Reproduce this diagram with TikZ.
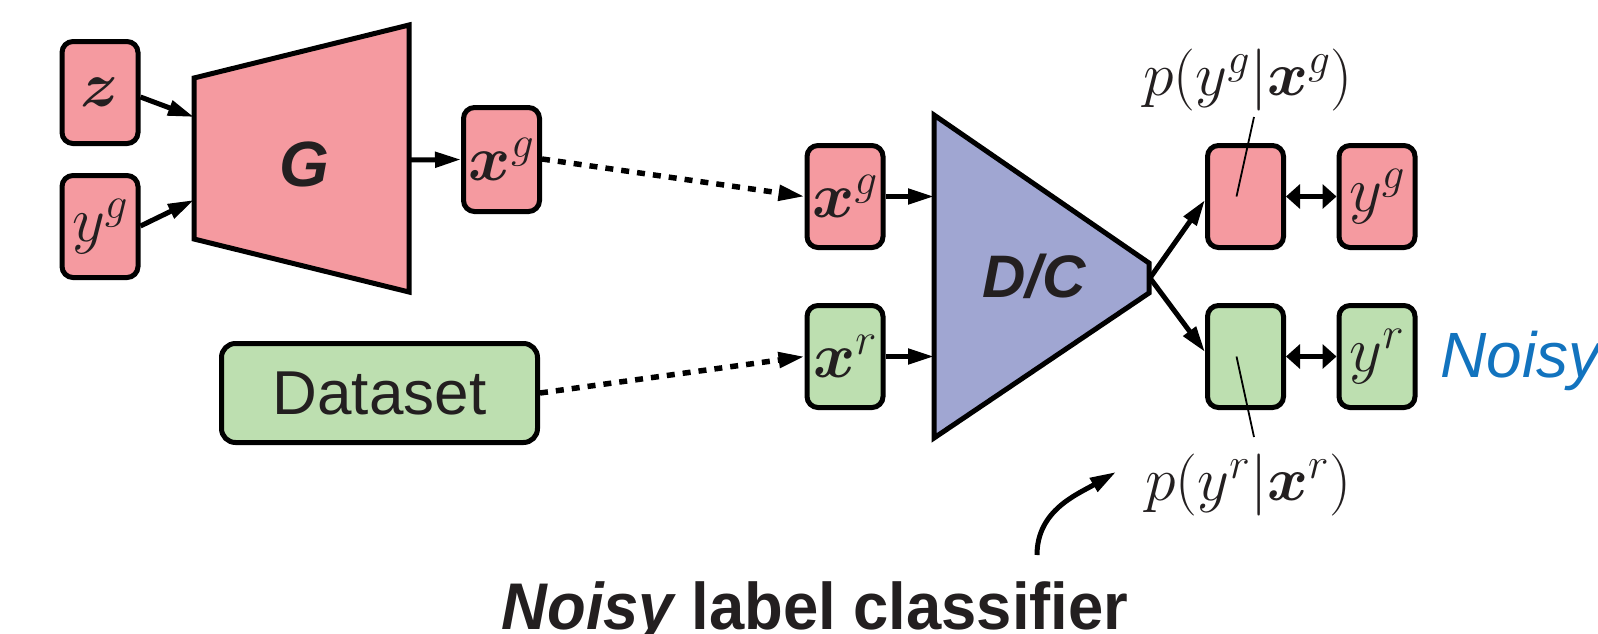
\RequirePackage{fix-cm}
\documentclass[tikz,border=0pt]{standalone}
\usepackage{amsmath,bm}
\usepackage{fontspec}
\usetikzlibrary{arrows.meta,calc}
\newfontfamily\helv{Liberation Sans}
\definecolor{gpink}{RGB}{245,154,160}
\definecolor{rgreen}{RGB}{189,223,176}
\definecolor{dcblue}{RGB}{160,166,210}
\definecolor{ink}{RGB}{35,31,32}
\definecolor{noisyblue}{RGB}{18,115,190}
\begin{document}
\begin{tikzpicture}[x=1pt,y=-1pt,
  box/.style={draw=black, line width=5pt, rounded corners=11pt,
    minimum width=76pt, minimum height=102pt, inner sep=0pt,
    text=ink, font=\fontsize{64}{64}\selectfont},
  pinkbox/.style={box, fill=gpink},
  greenbox/.style={box, fill=rgreen},
  tip/.style={-{Triangle[length=26pt,width=15pt]}},
  arr/.style={line width=5pt, tip},
  darr/.style={line width=5pt, {Triangle[length=14pt,width=24pt]}-{Triangle[length=14pt,width=24pt]}},
  dashedarr/.style={line width=5.5pt, dash pattern=on 8pt off 8pt, tip},
  leader/.style={line width=1.8pt},
  netshape/.style={draw=black, line width=5pt, line join=miter},
  plabel/.style={font=\fontsize{62}{62}\selectfont, text=ink, inner sep=0pt}
]
\clip (0,0) rectangle (1598,633);
\useasboundingbox (0,0) rectangle (1598,633);

% generator trapezoid
\coordinate (G1) at (194,78);
\coordinate (G2) at (409,25);
\coordinate (G3) at (409,292);
\coordinate (G4) at (194,239);
\filldraw[netshape, fill=gpink] (G1) -- (G2) -- (G3) -- (G4) -- cycle;
\node[text=ink, font=\helv\bfseries\itshape\fontsize{64}{64}\selectfont] (Glab) at (304,164) {G};
\coordinate (Gin1) at (194,117);
\coordinate (Gin2) at (194,200);
\coordinate (Gout) at (409,160);

% discriminator / classifier
\coordinate (D1) at (934,115);
\coordinate (D2) at (1149,263);
\coordinate (D3) at (1149,293);
\coordinate (D4) at (934,438);
\filldraw[netshape, fill=dcblue] (D1) -- (D2) -- (D3) -- (D4) -- cycle;
\node[text=ink, font=\helv\bfseries\itshape\fontsize{60}{60}\selectfont] (DClab) at (1034,276) {D/C};
\coordinate (Din1) at (934,196.5);
\coordinate (Din2) at (934,356.5);
\coordinate (Dout) at (1150,278);

% input boxes
\node[pinkbox] (z) at (100,92.5) {$\bm{z}$};
\node[pinkbox] (yg) at (100,226.5) {$y^g$};
\node[pinkbox, minimum height=104pt] (xg1) at (501.5,159.5) {$\bm{x}^g$};
\node[greenbox, minimum width=316pt, minimum height=99pt, rounded corners=14pt,
      font=\helv\fontsize{62}{62}\selectfont] (data) at (379.5,393) {Dataset};

\node[pinkbox] (xg2) at (845,196.5) {$\bm{x}^g$};
\node[greenbox] (xr) at (845,356.5) {$\bm{x}^r$};

% outputs
\node[pinkbox] (pg) at (1245.5,196.5) {};
\node[pinkbox] (ygr) at (1377,196.5) {$y^g$};
\node[greenbox] (pr) at (1245.5,356.5) {};
\node[greenbox] (yr) at (1377,356.5) {$y^r$};

\node[plabel] (pglab) at (1248,80) {$p(y^g|\bm{x}^g)$};
\node[plabel] (prlab) at (1248,485) {$p(y^r|\bm{x}^r)$};

\node[anchor=base west, inner sep=0pt, text=noisyblue,
      font=\helv\itshape\fontsize{64}{64}\selectfont] (noisy) at (1440,377) {Noisy};

\node[anchor=base, inner sep=0pt, text=ink,
      font=\helv\bfseries\fontsize{66}{66}\selectfont] (title) at (815,629)
      {\scalebox{0.96}[1]{\itshape Noisy\upshape{} label classifier}};

% connectors
\draw[arr] (z.east |- 0,97) -- (Gin1);
\draw[arr] (yg.east |- 0,226) -- (Gin2);
\draw[arr] (Gout) -- (xg1.west);
\draw[dashedarr] (xg1.east |- 0,159) -- (xg2.west);
\draw[dashedarr] (data.east) -- (xr.west);
\draw[arr] (xg2.east) -- (Din1);
\draw[arr] (xr.east) -- (Din2);
\draw[arr] (Dout) -- (pg.west |- 0,200);
\draw[arr] (Dout) -- (pr.west |- 0,352);
\draw[darr] (pg.east) -- (ygr.west);
\draw[darr] (pr.east) -- (yr.west);

% leader lines to the probability labels
\coordinate (pgtop) at (1254,117);
\coordinate (prbot) at (1254,437);
\draw[leader] ($(pg.center)+(-9,0)$) -- (pgtop);
\draw[leader] ($(pr.center)+(-9,0)$) -- (prbot);

% curved pointer from the title
\coordinate (cstart) at (1037,555);
\coordinate (ctip) at (1116,472);
\draw[line width=5pt, tip] (cstart) to[out=90,in=210] (ctip);
\end{tikzpicture}
\end{document}
